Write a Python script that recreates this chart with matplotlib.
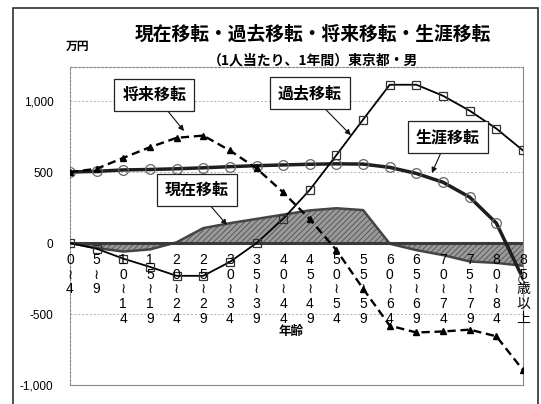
import matplotlib
matplotlib.use("Agg")
import matplotlib.pyplot as plt
from matplotlib.patches import Rectangle

# age groups (vertical labels, one glyph per line)
age_labels = ["0≀4", "5≀9", "10≀14", "15≀19", "20≀24", "25≀29", "30≀34",
              "35≀39", "40≀44", "45≀49", "50≀54", "55≀59", "60≀64", "65≀69",
              "70≀74", "75≀79", "80≀84", "85歳以上"]

# 万円 per person per year
genzai = [0, -35, -60, -45, 5, 105, 140, 170, 200, 230, 245, 232,
          -5, -50, -85, -130, -140, -160]
kako = [0, -40, -110, -168, -231, -231, -133, 0, 170, 375, 620, 870,
        1115, 1115, 1037, 932, 806, 652]
shorai = [500, 523, 600, 675, 741, 757, 652, 526, 357, 168, -50, -322,
          -582, -630, -623, -610, -657, -895]
shogai = [500, 505, 515, 518, 523, 530, 538, 545, 550, 555, 558, 556,
          533, 490, 428, 323, 140, -250]

yticks = [-1000, -500, 0, 500, 1000]
ytick_labels = ["-1,000", "-500", "0", "500", "1,000"]

JP = ["Noto Sans CJK JP", "DejaVu Sans"]
NUM = ["Liberation Sans", "Noto Sans CJK JP", "DejaVu Sans"]

fig = plt.figure(figsize=(5.41, 4.04), dpi=100)
ax = fig.add_axes([70 / 541, 1 - 385 / 404, 453 / 541, 318 / 404])

x = list(range(len(age_labels)))

# 現在移転 area
plt.rcParams["hatch.linewidth"] = 0.6
ax.fill_between(x, genzai, 0, facecolor="#9a9a9a", edgecolor="#505050",
                hatch="//////", linewidth=0, zorder=1)
ax.plot(x, genzai, color="#454545", lw=1.8, zorder=2)
ax.axhline(0, color="#3a3a3a", lw=2.2, zorder=2)

ax.plot(x, shogai, color="#1e1e1e", lw=2.5, marker="o", markersize=7,
        markerfacecolor="none", markeredgecolor="#666666",
        markeredgewidth=0.9, zorder=3)
ax.plot(x, kako, color="black", lw=1.3, marker="s", markersize=5.5,
        markerfacecolor="none", markeredgecolor="#333333",
        markeredgewidth=0.9, zorder=4)
ax.plot(x, shorai, color="black", lw=1.7, linestyle=(0, (3.5, 2)),
        marker="^", markersize=5, markerfacecolor="black",
        markeredgecolor="black", zorder=4)

ax.set_xlim(0, 17)
ax.set_ylim(-1000, 1240)
ax.set_xticks([])
ax.set_yticks(yticks)
ax.set_yticklabels(ytick_labels, family=NUM, fontsize=8.5)
ax.tick_params(axis="y", length=0, pad=12)
for v in [1000, 500, -500]:
    ax.axhline(v, color="#b0b0b0", lw=0.7, linestyle=(0, (2, 2)), zorder=0)
for side, sp in ax.spines.items():
    sp.set_color("#888888")
    sp.set_linewidth(0.8)
ax.spines["top"].set_linestyle((0, (2, 1.5)))
ax.spines["left"].set_linestyle((0, (2, 1.5)))

# vertical age labels under the zero line
for i, lab in enumerate(age_labels):
    for k, ch in enumerate(lab):
        ax.annotate(ch, (i, 0), xytext=(0, -12.2 - 10.6 * k),
                    textcoords="offset points", ha="center", va="center",
                    fontsize=10, family=NUM, color="black", zorder=6)

# callout boxes
box = dict(boxstyle="square,pad=0.5", fc="white", ec="#222222", lw=0.9)
arrow = dict(arrowstyle="-|>", color="#111111", lw=0.8, mutation_scale=8,
             shrinkA=0, shrinkB=0)
callouts = [("将来移転", (3.17, 1045), (4.28, 789)),
            ("過去移転", (9.0, 1055), (10.54, 760)),
            ("生涯移転", (14.18, 746), (13.58, 493)),
            ("現在移転", (4.77, 372), (5.89, 127))]
for text, pos, tip in callouts:
    ax.annotate(text, xy=tip, xytext=pos, ha="center", va="center",
                fontsize=11.5, fontweight="bold", family=JP, bbox=box,
                arrowprops=arrow, zorder=7)

ax.annotate("年齢", (8.3, 0), xytext=(0, -64),
            textcoords="offset points", ha="center", va="center",
            fontsize=9, fontweight="bold", family=JP)

fig.text(313 / 541, 1 - 34 / 404, "現在移転・過去移転・将来移転・生涯移転",
         ha="center", va="center", fontsize=13.5, fontweight="bold", family=JP)
fig.text(313 / 541, 1 - 60 / 404, "（1人当たり、1年間）東京都・男",
         ha="center", va="center", fontsize=10, fontweight="bold", family=JP)
fig.text(78 / 541, 1 - 46 / 404, "万円", ha="center", va="center",
         fontsize=8.5, fontweight="bold", family=JP)

fig.add_artist(Rectangle((13 / 541, -0.1), 525 / 541, 1.1 - 8 / 404,
                         transform=fig.transFigure, fill=False,
                         ec="#303030", lw=1.2))

fig.savefig("out.png", dpi=100)
